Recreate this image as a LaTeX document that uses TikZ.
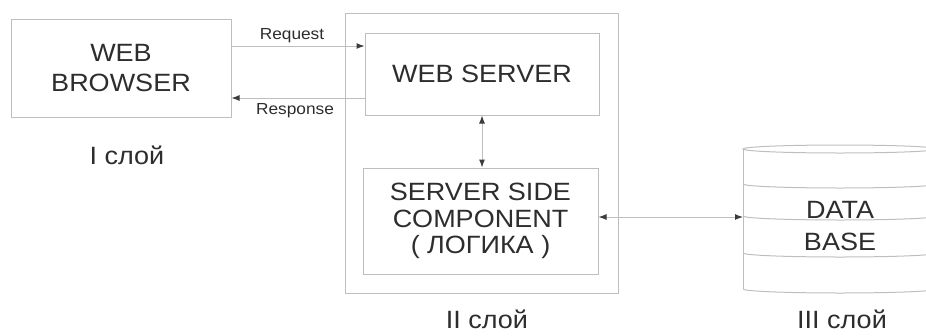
\documentclass[tikz,border=0pt]{standalone}
\usepackage{fontspec}
\setmainfont{Liberation Sans}[FakeStretch=1.08]
\usetikzlibrary{arrows.meta}
\definecolor{edge}{RGB}{190,190,190}
\definecolor{ink}{RGB}{45,45,45}
\definecolor{tipc}{RGB}{60,60,60}
\begin{document}
\begin{tikzpicture}[x=1pt,y=-1pt,
  box/.style={draw=edge, line width=1pt, inner sep=0pt, align=center,
    text=ink, font=\fontsize{25}{30}\selectfont},
  lbl/.style={text=ink, inner sep=0pt, font=\fontsize{16}{18}\selectfont},
  layer/.style={text=ink, inner sep=0pt, font=\fontsize{25}{28}\selectfont},
  link/.style={draw=edge, line width=1pt,
    arrows={-Latex[length=8pt,width=6pt,color=tipc]}},
  both/.style={draw=edge, line width=1pt,
    arrows={Latex[length=8pt,width=6pt,color=tipc]-Latex[length=8pt,width=6pt,color=tipc]}},
  dbline/.style={draw=edge, line width=1pt}]
\useasboundingbox (0,0) rectangle (926,335);
\clip (0,0) rectangle (926,335);

% tier I: client
\node[box, minimum width=220pt, minimum height=98pt] (browser) at (121,68) {WEB\\BROWSER};
\node[layer] (l1) at (127,155) {I слой};

% tier II: server container with its two parts
\node[box, minimum width=273pt, minimum height=280pt] (tier2) at (481.5,153) {};
\node[box, minimum width=234pt, minimum height=82pt] (server) at (482,74) {WEB SERVER};
\node[box, minimum width=235pt, minimum height=106pt,
  font=\fontsize{25}{26.5}\selectfont] (logic) at (480.5,221)
  {SERVER SIDE\\COMPONENT\\( ЛОГИКА )};
\node[layer] (l2) at (487,319) {II слой};

% tier III: database cylinder
\coordinate (dbw) at (743,217);
\draw[dbline] (840,149) ellipse [x radius=97, y radius=4];
\draw[dbline] (743,149) -- (743,289);
\foreach \yy in {188,220,257,293}{
  \draw[dbline] (743,\yy-4) .. controls (743,\yy-1.8) and (786.5,\yy) .. (840,\yy)
    .. controls (893.5,\yy) and (937,\yy-1.8) .. (937,\yy-4);
}
\node[text=ink, inner sep=0pt, align=center, font=\fontsize{25}{32}\selectfont]
  (db) at (840,226) {DATA\\BASE};
\node[layer] (l3) at (842,319) {III слой};

% request / response between browser and web server
\coordinate (rq) at ([yshift=22pt]browser.east);
\coordinate (rs) at ([yshift=-30pt]browser.east);
\draw[link] (rq) -- (rq -| server.west);
\draw[link] (rs -| server.west) -- (rs);
\node[lbl] (req) at (292,36) {Request};
\node[lbl] (resp) at (295,111) {Response};

% web server <-> logic, logic <-> database
\draw[both] (server.south) -- (server.south |- logic.north);
\draw[both] (logic.east |- dbw) -- (dbw);
\end{tikzpicture}
\end{document}
